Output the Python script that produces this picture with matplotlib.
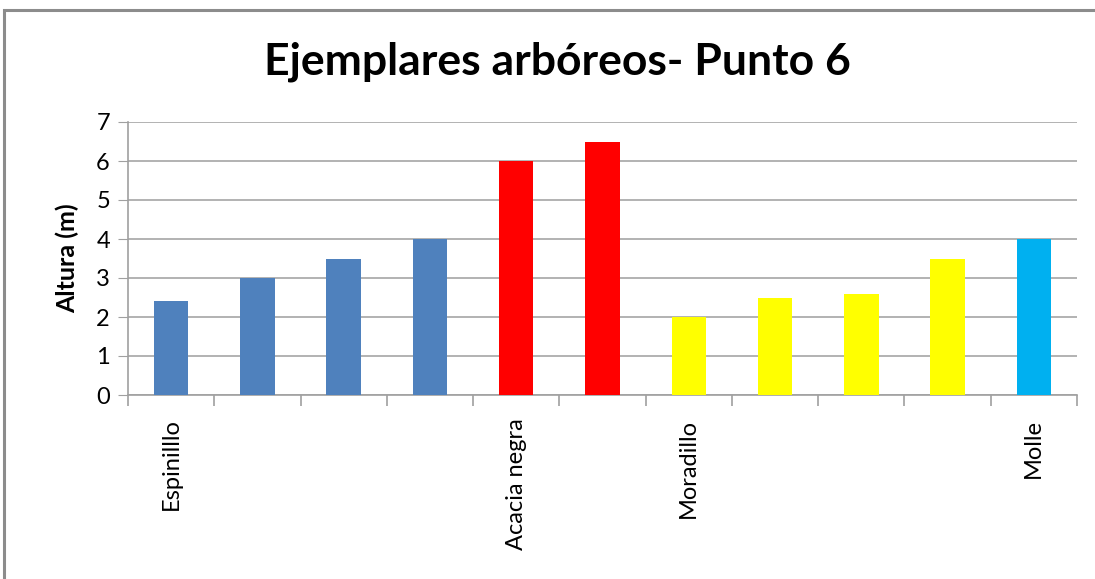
import matplotlib
matplotlib.use('Agg')
import matplotlib.pyplot as plt
import matplotlib.patches as patches
import numpy as np

# data
labels = ["Espinilllo", "", "", "", "Acacia negra", "", "Moradillo", "", "", "", "Molle"]
heights = [2.4, 3.0, 3.5, 4.0, 6.0, 6.5, 2.0, 2.5, 2.6, 3.5, 4.0]
colors = ["#4F81BD"] * 4 + ["#FF0000"] * 2 + ["#FFFF00"] * 4 + ["#00B0F0"]
yticks = [0, 1, 2, 3, 4, 5, 6, 7]

plt.rcParams['font.family'] = ['Lato', 'DejaVu Sans']

fig = plt.figure(figsize=(10.95, 5.79), dpi=100)
ax = fig.add_axes([128 / 1095, 1 - 395 / 579, (1077 - 128) / 1095, (395 - 122) / 579])

x = np.arange(len(heights))
ax.bar(x, heights, width=0.4, color=colors, zorder=3)

ax.set_xlim(-0.5, len(heights) - 0.5)
ax.set_ylim(0, 7)
ax.set_yticks(yticks)
ax.tick_params(axis='y', length=7, color='#A0A0A0', labelsize=17, pad=6)
ax.yaxis.grid(True, color='#A6A6A6', linewidth=1.2, zorder=0)

# labels at bar centres, tick marks at category boundaries
ax.set_xticks(x)
ax.set_xticklabels(labels, rotation=90, fontsize=17, va='top')
ax.tick_params(axis='x', which='major', length=0, pad=17)
ax.set_xticks(np.arange(-0.5, len(heights)), minor=True)
ax.tick_params(axis='x', which='minor', length=8, color='#A0A0A0', width=1.2)

for side in ['top', 'right']:
    ax.spines[side].set_visible(False)
for side in ['left', 'bottom']:
    ax.spines[side].set_color('#A0A0A0')
    ax.spines[side].set_linewidth(1.2)

ax.set_ylabel("Altura (m)", fontsize=18, fontweight='bold', labelpad=12)

fig.text(557 / 1095, 1 - 62 / 579, "Ejemplares arbóreos- Punto 6", ha='center', va='center',
         fontsize=32, fontweight='bold')

# outer chart frame (runs off the right and bottom edges)
frame = patches.Rectangle((4 / 1095, -0.1), 1.2, 1 - 10 / 579 + 0.1, transform=fig.transFigure,
                          fill=False, edgecolor='#8C8C8C', linewidth=2.2)
fig.patches.append(frame)

fig.savefig("out.png", dpi=100)
